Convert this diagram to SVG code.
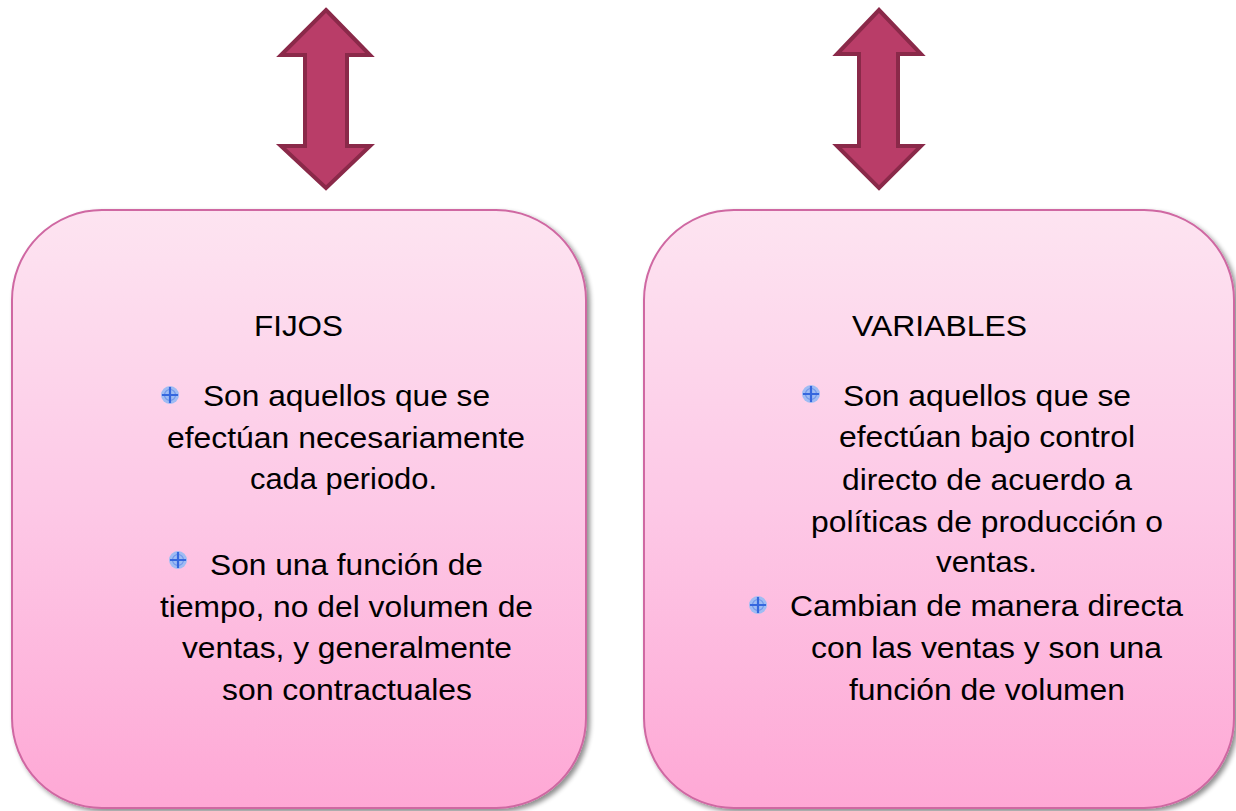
<svg xmlns="http://www.w3.org/2000/svg" xmlns:xlink="http://www.w3.org/1999/xlink" width="1236" height="811" viewBox="0 0 1236 811">
<style>
.box{stroke:#cf67a2;stroke-width:2;fill:url(#pinkGrad);filter:url(#shadow)}
.arrow{fill:#b93d68;stroke:#8a2949;stroke-width:4;stroke-linejoin:miter}
.t{font-family:"Liberation Sans",Arial,sans-serif;font-size:29px;fill:#000}
</style>
<defs>
<linearGradient id="pinkGrad" x1="0" y1="0" x2="0" y2="1">
<stop offset="0" stop-color="#fde4f1"/>
<stop offset="0.5" stop-color="#fdc8e6"/>
<stop offset="1" stop-color="#fea8d5"/>
</linearGradient>
<filter id="shadow" x="-5%" y="-5%" width="112%" height="112%">
<feGaussianBlur in="SourceAlpha" stdDeviation="2.5"/>
<feOffset dx="3" dy="3" result="b"/>
<feComponentTransfer><feFuncA type="linear" slope="0.45"/></feComponentTransfer>
<feMerge><feMergeNode/><feMergeNode in="SourceGraphic"/></feMerge>
</filter>
<filter id="soft"><feGaussianBlur stdDeviation="0.6"/></filter>
<g id="bullet">
<circle cx="0" cy="0" r="9" fill="#9fbcf3" filter="url(#soft)"/>
<circle cx="0" cy="0" r="5.5" fill="none" stroke="#7197ea" stroke-width="1.2"/>
<path d="M-8 0H8M0 -8V8" stroke="#3567de" stroke-width="2.2"/>
</g>
</defs>
<g id="connectors">
<polygon id="arrow-left" class="arrow" points="326,10 370,55 347,55 347,146 370,146 326,188 281,146 305,146 305,55 281,55"/>
<polygon id="arrow-right" class="arrow" points="879,10 921,54 898,54 898,146 921,146 879,188 837,146 859,146 859,54 837,54"/>
</g>
<g id="node-fijos">
<rect class="box" x="12" y="210" width="574" height="598" rx="90" ry="90"/>
<text class="t" x="254" y="336" textLength="89" lengthAdjust="spacingAndGlyphs">FIJOS</text>
<use xlink:href="#bullet" x="170" y="395"/>
<text class="t" x="203" y="406" textLength="287" lengthAdjust="spacingAndGlyphs">Son aquellos que se</text>
<text class="t" x="167" y="448" textLength="358" lengthAdjust="spacingAndGlyphs">efectúan necesariamente</text>
<text class="t" x="250" y="489" textLength="187" lengthAdjust="spacingAndGlyphs">cada periodo.</text>
<use xlink:href="#bullet" x="178" y="560"/>
<text class="t" x="210" y="575" textLength="273" lengthAdjust="spacingAndGlyphs">Son una función de</text>
<text class="t" x="160" y="617" textLength="373" lengthAdjust="spacingAndGlyphs">tiempo, no del volumen de</text>
<text class="t" x="182" y="658" textLength="330" lengthAdjust="spacingAndGlyphs">ventas, y generalmente</text>
<text class="t" x="222" y="700" textLength="250" lengthAdjust="spacingAndGlyphs">son contractuales</text>
</g>
<g id="node-variables">
<rect class="box" x="644" y="210" width="590" height="598" rx="90" ry="90"/>
<text class="t" x="852" y="336" textLength="175" lengthAdjust="spacingAndGlyphs">VARIABLES</text>
<use xlink:href="#bullet" x="811" y="394"/>
<text class="t" x="843" y="406" textLength="288" lengthAdjust="spacingAndGlyphs">Son aquellos que se</text>
<text class="t" x="839" y="447" textLength="296" lengthAdjust="spacingAndGlyphs">efectúan bajo control</text>
<text class="t" x="842" y="490" textLength="290" lengthAdjust="spacingAndGlyphs">directo de acuerdo a</text>
<text class="t" x="811" y="532" textLength="352" lengthAdjust="spacingAndGlyphs">políticas de producción o</text>
<text class="t" x="936" y="572" textLength="101" lengthAdjust="spacingAndGlyphs">ventas.</text>
<use xlink:href="#bullet" x="758" y="605"/>
<text class="t" x="790" y="616" textLength="393" lengthAdjust="spacingAndGlyphs">Cambian de manera directa</text>
<text class="t" x="811" y="658" textLength="351" lengthAdjust="spacingAndGlyphs">con las ventas y son una</text>
<text class="t" x="849" y="700" textLength="276" lengthAdjust="spacingAndGlyphs">función de volumen</text>
</g>
</svg>
